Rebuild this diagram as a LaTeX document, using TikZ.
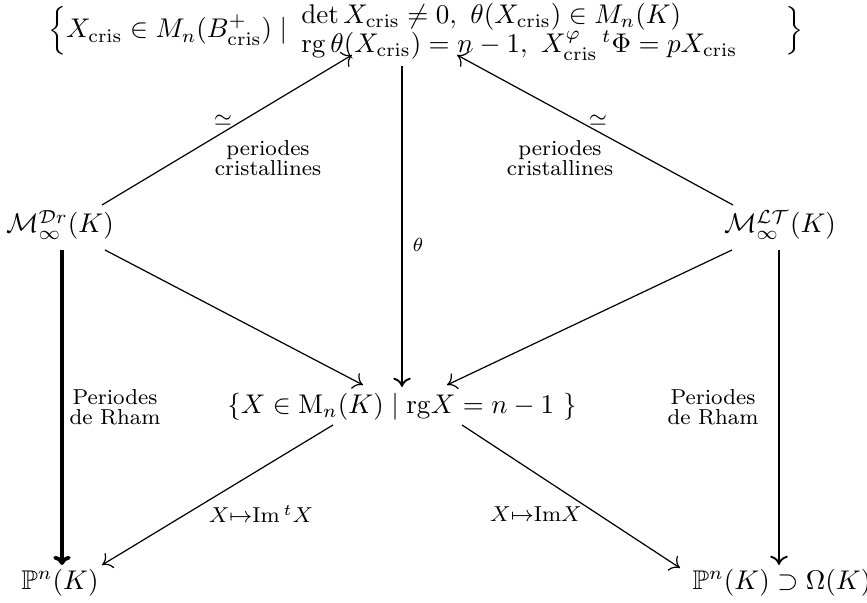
\documentclass[tikz,border=0pt]{standalone}
\usepackage{amsmath,amssymb}
\usetikzlibrary{arrows.meta,calc}
\begin{document}
\begin{tikzpicture}[x=0.37pt,y=-0.37pt,
  obj/.style={inner sep=0pt,outer sep=0pt},
  lab/.style={inner sep=0pt,font=\footnotesize,align=center},
  arr/.style={-{To[length=3.4pt,width=6.5pt]},line width=0.45pt},
  varr/.style={arr,line width=0.7pt},
  bigarr/.style={arr,line width=1.4pt}]
\useasboundingbox (0,0) rectangle (867,603);
% nodes
\node[obj,anchor=base west] (top) at (48,38) {$\Big\{X_{\mathrm{cris}}\in M_n(B^+_{\mathrm{cris}})\mid \begin{array}{@{\hspace{2.5pt}}l}\det X_{\mathrm{cris}}\neq 0,\ \theta(X_{\mathrm{cris}})\in M_n(K)\\[-1.2pt] \mathrm{rg}\,\theta(X_{\mathrm{cris}})=n-1,\ {X^{\varphi}_{\mathrm{cris}}}\,{}^t\Phi=pX_{\mathrm{cris}}\end{array}\quad\;\Big\}$};
\node[obj] (dr) at (60,225) {$\mathcal{M}^{\mathcal{D}r}_{\infty}(K)$};
\node[obj] (lt) at (780,225) {$\mathcal{M}^{\mathcal{LT}}_{\infty}(K)$};
\node[obj] (mid) at (402,407) {$\{X\in\mathrm{M}_n(K)\mid \mathrm{rg}X=n-1\ \}$};
\node[obj] (pl) at (60,583) {$\mathbb{P}^n(K)$};
\node[obj] (pr) at (782,583) {$\mathbb{P}^n(K)\supset\Omega(K)$};
% coordinates on the top node
\coordinate (tL) at ($(top.base west)+(304,17)$);
\coordinate (tM) at ($(top.base west)+(354,28)$);
\coordinate (tR) at ($(top.base west)+(409,17)$);
% connectors
\draw[arr] ($(dr)+(42,-20)$) -- (tL);
\draw[arr] ($(lt)+(-47,-20)$) -- (tR);
\draw[varr] (tM) -- ($(mid)+(0,-20)$);
\draw[arr] ($(dr)+(45,25)$) -- ($(mid)+(-39,-22)$);
\draw[arr] ($(lt)+(-48,25)$) -- ($(mid)+(45,-22)$);
\draw[bigarr] ($(dr)+(2,25)$) -- ($(pl)+(2,-18)$);
\draw[varr] ($(lt)+(-1,25)$) -- ($(pr)+(-3,-18)$);
\draw[arr] ($(mid)+(-69,18)$) -- ($(pl)+(42,-18)$);
\draw[arr] ($(mid)+(60,18)$) -- ($(pr)+(-102,-15)$);
% labels
\node[lab] (l1) at (223,120) {$\simeq$};
\node[lab] (l2) at (268,158) {periodes\\[-2pt]cristallines};
\node[lab] (l3) at (598,120) {$\simeq$};
\node[lab] (l4) at (560,158) {periodes\\[-2pt]cristallines};
\node[lab,font=\scriptsize] (l5) at (418,245) {$\theta$};
\node[lab] (l6) at (115,407) {Periodes\\[-2pt]de Rham};
\node[lab] (l7) at (713,407) {Periodes\\[-2pt]de Rham};
\node[lab] (l8) at (261,514) {$X{\mapsto}\mathrm{Im}\,{}^tX$};
\node[lab] (l9) at (536,514) {$X{\mapsto}\mathrm{Im}X$};
\end{tikzpicture}
\end{document}
